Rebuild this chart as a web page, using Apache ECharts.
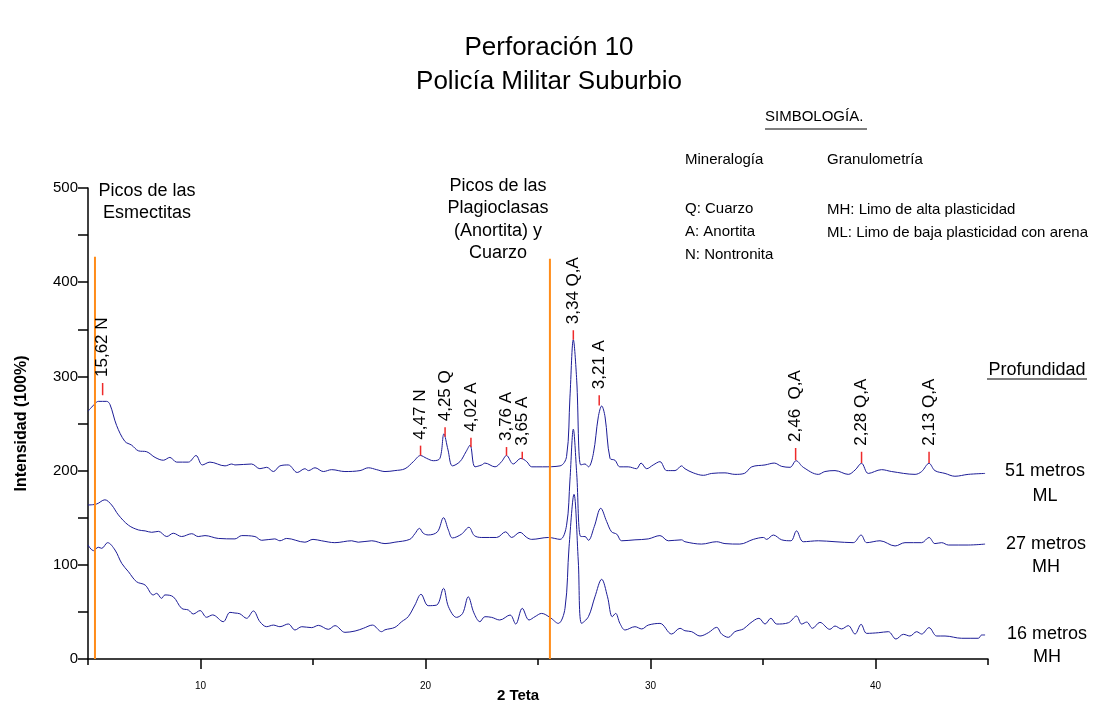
<!DOCTYPE html>
<html>
<head>
<meta charset="utf-8">
<title>Perforación 10</title>
<script src="https://cdn.jsdelivr.net/npm/echarts@6.0.0/dist/echarts.min.js"></script>
<style>
  html, body { margin: 0; padding: 0; background: #fff; }
  #chart { width: 1099px; height: 704px; }
</style>
</head>
<body>
<div id="chart"></div>
<script>
const trace51 = [
  [5.0,263],[5.31,271],[5.46,273.5],[5.83,273.5],[5.98,270],[6.27,248],[6.64,231],[6.94,227],
  [7.24,221],[7.61,220],[7.98,214],[8.35,211],[8.64,214],[8.94,209],[9.46,209],[9.8,216],
  [10.08,206],[10.42,209],[11.09,205],[11.39,207],[11.53,206],[12.27,207],[12.64,202],[12.94,203.5],
  [13.24,199],[13.53,205],[13.9,206],[14.3,198],[14.64,202],[14.8,200],[15.09,203],[15.46,199],
  [15.83,201],[16.42,199],[17.09,200],[17.46,203],[17.83,201],[18.2,199],[18.64,200],[19.09,202],
  [19.46,209.5],[19.78,216],[20.05,213],[20.35,210.5],[20.64,213],[20.82,239],[21.0,222],[21.2,205],
  [21.53,209.5],[21.8,220],[21.98,227],[22.2,204],[22.5,206],[22.64,208],[23.09,204],[23.38,209.5],
  [23.6,216],[23.9,207],[24.24,213],[24.5,209.5],[24.72,204],[25.2,204],[25.98,205],[26.27,215],
  [26.42,278],[26.57,339],[26.72,296],[26.9,206],[27.09,207],[27.24,204],[27.46,218],[27.68,257],
  [27.83,268.6],[27.98,257],[28.2,213],[28.42,211],[28.64,204],[29.01,204],[29.38,202],[29.58,208],
  [29.83,202],[30.12,206],[30.42,209.5],[30.72,200],[31.09,200],[31.38,205],[31.53,202],[31.9,197.6],
  [32.35,195],[32.72,197],[33.31,197.6],[33.75,196],[34.17,197],[34.5,204],[35.09,206],[35.5,208],
  [35.83,204.5],[36.2,203.5],[36.47,210.5],[36.79,203.5],[37.46,196],[37.75,199],[38.2,200],[38.79,196],
  [39.09,200.6],[39.38,207.7],[39.68,197],[40.27,201],[40.72,199],[41.76,196],[42.05,199],[42.38,207.7],
  [42.64,200],[43.09,197],[43.53,194],[44.12,196],[44.87,197]
];
const trace27 = [
  [5.0,163.5],[5.38,164.5],[5.75,169],[6.05,163.5],[6.35,153],[6.8,142],[7.24,137],[7.54,136],
  [7.83,134.5],[8.13,135.5],[8.5,130],[8.79,133.5],[9.16,130],[9.61,133],[9.9,130],[10.2,131],
  [10.79,128],[11.53,127.5],[11.83,131],[12.42,130],[12.72,126],[13.3,127.5],[13.53,125.5],[13.83,128],
  [14.64,124],[15.0,127],[15.38,125.5],[15.97,123.5],[16.72,125.5],[17.01,124],[17.61,125.5],[18.2,122.5],
  [18.64,124],[19.3,127],[19.53,133],[19.73,138.7],[19.9,133.5],[20.12,131.7],[20.53,135],[20.8,150],
  [21.02,136.7],[21.2,128.5],[21.6,132.5],[21.93,139.8],[22.17,131],[22.5,129],[23.16,129],[23.56,135],
  [23.83,129],[24.2,134.5],[24.5,129],[24.72,127],[25.46,129],[25.98,127],[26.27,142],[26.42,190],
  [26.57,244],[26.72,197],[26.9,130],[27.09,130],[27.24,126],[27.5,140.5],[27.79,160],[28.05,146],
  [28.27,135],[28.5,132.5],[28.72,125.5],[29.31,126.5],[29.9,127.5],[30.42,131],[30.79,125.5],[31.38,126.5],
  [31.53,124.5],[32.27,122],[32.94,124.5],[33.31,122.5],[33.97,122],[34.57,127],[35.02,129],[35.16,127],
  [35.46,131.6],[35.83,126.5],[36.24,125.5],[36.49,136],[36.79,124.5],[37.46,125.5],[38.2,124.5],[39.01,123.5],
  [39.36,131.6],[39.61,123.5],[40.2,125.5],[40.87,120],[41.31,123.5],[42.05,123.5],[42.38,129],[42.64,122.5],
  [42.94,123.5],[43.24,121],[44.12,121],[44.87,122]
];
const trace16 = [
  [5.0,121],[5.24,115],[5.46,118.6],[5.61,117.5],[5.87,123.5],[6.2,115.7],[6.5,101.5],[6.8,92.6],
  [7.16,82],[7.54,78.5],[7.9,68],[8.05,69.7],[8.27,64.4],[8.42,68],[8.79,66],[9.16,53.8],
  [9.46,52],[9.68,47.8],[9.98,51.4],[10.27,44.3],[10.54,46.8],[11.01,39.6],[11.31,49.5],[11.53,48.8],
  [11.75,48],[12.05,43.2],[12.35,51],[12.64,39.6],[12.94,34.3],[13.24,36],[13.53,34.3],[13.9,37.2],
  [14.2,30.8],[14.5,34.3],[14.94,33.3],[15.24,35.7],[15.68,31.5],[15.98,35.4],[16.42,28.3],[16.87,29.7],
  [17.24,32.6],[17.64,36],[18.05,29],[18.2,31],[18.64,33.6],[18.94,39.6],[19.23,44.9],[19.53,57.3],
  [19.8,68.7],[20.12,56.6],[20.5,57.3],[20.8,75],[21.02,55.5],[21.38,44.2],[21.65,48.4],[21.9,66],
  [22.15,49],[22.42,39.6],[22.64,44.9],[22.94,44.2],[23.3,41.4],[23.76,46.7],[24.01,37.1],[24.3,53.8],
  [24.6,41.4],[24.87,45],[25.16,48.4],[25.53,44.2],[25.9,37.8],[26.2,53.8],[26.38,119],[26.6,174.8],
  [26.79,104],[26.94,37.8],[27.24,44.9],[27.53,66],[27.83,84.6],[28.09,66],[28.3,44.9],[28.45,48.4],
  [28.64,37.8],[28.87,30.8],[29.31,34.3],[29.61,31.9],[29.9,36],[30.42,37.8],[30.94,26.5],[31.31,32.6],
  [31.53,30],[31.83,29],[32.2,24.4],[32.57,27.9],[32.94,33.6],[33.16,26.5],[33.46,23],[33.75,29],
  [34.13,31.9],[34.42,37.8],[34.82,43.2],[35.09,37.1],[35.35,43.2],[35.61,37.1],[36.13,38.5],[36.49,45.6],
  [36.72,37.1],[36.94,39.2],[37.2,32.6],[37.53,38.9],[37.97,31.5],[38.2,35],[38.49,31.9],[38.79,35.4],
  [39.09,26.5],[39.36,36.8],[39.61,27.2],[40.13,27.9],[40.57,29],[40.91,21.2],[41.24,26.2],[41.53,24.4],
  [41.83,29],[42.05,26.5],[42.38,33.3],[42.72,24.4],[43.09,24.4],[43.83,22],[44.57,22],[44.72,25.5],
  [44.87,25.5]
];

// picos marcados (posición 2θ, base y tope de la marca roja, etiqueta d / mineral)
const peakX     = [5.65, 19.78, 20.87, 22.02, 23.6, 24.3, 26.57, 27.72, 36.45, 39.38, 42.38];
const peakLow   = [280, 216, 236, 225, 216, 212, 339, 269, 211, 208, 208];
const peakHigh  = [293, 226.5, 246, 235, 225, 220, 349, 280, 224, 220, 220];
const peakLabel = ['15,62 N', '4,47 N', '4,25 Q', '4,02 A', '3,76 A', '3,65 A',
                   '3,34 Q,A', '3,21 A', '2,46  Q,A', '2,28 Q,A', '2,13 Q,A'];

// líneas naranjas que separan las zonas de picos
const guideX   = [5.31, 25.53];
const guideTop = [427, 425];

// ejes
const xTicksMajor = [10, 20, 30, 40];
const xTicksMinor = [5, 15, 25, 35, 45];

// --- estilos -----------------------------------------------------------------
const FONT = '"Liberation Sans", Arial, Helvetica, sans-serif';
const navy = '#1c1c96', orange = '#ff8c1a', red = '#ee2a2a';

const chart = echarts.init(document.getElementById('chart'));

const lineSeries = (name, data) => ({
  name, type: 'line', data, smooth: 0.35, symbol: 'none',
  lineStyle: { color: navy, width: 1 }, z: 3
});

const txt = (text, x, y, size, opts = {}) => ({
  type: 'text', x, y, silent: true,
  style: {
    text, fill: '#000', font: `${opts.bold ? 'bold ' : ''}${size}px ${FONT}`,
    align: opts.align || 'left', verticalAlign: 'middle'
  }
});
const uline = (x1, x2, y) => ({
  type: 'line', silent: true, shape: { x1, y1: y, x2, y2: y }, style: { stroke: '#000', lineWidth: 1 }
});

const option = {
  animation: false,
  grid: { left: 88, right: 111, top: 188, bottom: 45, containLabel: false, outerBoundsMode: 'none' },
  xAxis: [{
    type: 'value', min: 5, max: 45, position: 'bottom',
    axisLine: { lineStyle: { color: '#000', width: 1.5 } },
    axisTick: { customValues: xTicksMajor, length: 10, lineStyle: { color: '#000', width: 1.5 } },
    axisLabel: { customValues: xTicksMajor, margin: 22, fontSize: 10, fontFamily: FONT, color: '#000' },
    splitLine: { show: false }
  }, {
    type: 'value', min: 5, max: 45, position: 'bottom',
    axisLine: { show: false },
    axisTick: { customValues: xTicksMinor, length: 6, lineStyle: { color: '#000', width: 1.5 } },
    axisLabel: { show: false },
    splitLine: { show: false }
  }],
  yAxis: {
    type: 'value', min: 0, max: 500, interval: 50,
    name: 'Intensidad (100%)', nameLocation: 'middle', nameGap: 58,
    nameTextStyle: { fontFamily: FONT, fontWeight: 'bold', fontSize: 16, color: '#000' },
    axisLine: { show: true, lineStyle: { color: '#000', width: 1.5 } },
    axisTick: { show: true, length: 10, lineStyle: { color: '#000', width: 1.5 } },
    axisLabel: {
      margin: 10, fontSize: 15, fontFamily: FONT, color: '#000',
      formatter: v => (v % 100 === 0 ? String(v) : '')
    },
    splitLine: { show: false }
  },
  series: [
    lineSeries('51 metros', trace51),
    lineSeries('27 metros', trace27),
    lineSeries('16 metros', trace16),
    {
      type: 'custom', name: 'guias', z: 4,
      data: guideX.map((x, i) => [x, guideTop[i]]),
      renderItem: (params, api) => {
        const top = api.coord([api.value(0), api.value(1)]);
        const bot = api.coord([api.value(0), 0]);
        return { type: 'line', shape: { x1: top[0], y1: top[1], x2: bot[0], y2: bot[1] },
                 style: { stroke: orange, lineWidth: 2 } };
      }
    },
    {
      type: 'custom', name: 'picos', z: 5,
      data: peakX.map((x, i) => [x, peakLow[i], peakHigh[i]]),
      renderItem: (params, api) => {
        const lo = api.coord([api.value(0), api.value(1)]);
        const hi = api.coord([api.value(0), api.value(2)]);
        return { type: 'group', children: [
          { type: 'line', shape: { x1: lo[0], y1: lo[1], x2: hi[0], y2: hi[1] },
            style: { stroke: red, lineWidth: 1.5 } },
          { type: 'text', x: hi[0], y: hi[1] - 6, rotation: Math.PI / 2,
            style: { text: peakLabel[params.dataIndex], fill: '#000', font: `17px ${FONT}`,
                     align: 'left', verticalAlign: 'middle' } }
        ]};
      }
    }
  ],
  graphic: [
    txt('Perforación 10', 549, 48, 26, { align: 'center' }),
    txt('Policía Militar Suburbio', 549, 82, 26, { align: 'center' }),

    txt('SIMBOLOGÍA.', 765, 117, 15),
    uline(765, 867, 129),
    txt('Mineralogía', 685, 160, 15),
    txt('Granulometría', 827, 160, 15),
    txt('Q: Cuarzo', 685, 209, 15),
    txt('A: Anortita', 685, 232, 15),
    txt('N: Nontronita', 685, 255, 15),
    txt('MH: Limo de alta plasticidad', 827, 210, 15),
    txt('ML: Limo de baja plasticidad con arena', 827, 233, 15),

    txt('Picos de las', 147, 191, 18, { align: 'center' }),
    txt('Esmectitas', 147, 213, 18, { align: 'center' }),
    txt('Picos de las', 498, 186, 18, { align: 'center' }),
    txt('Plagioclasas', 498, 208, 18, { align: 'center' }),
    txt('(Anortita) y', 498, 231, 18, { align: 'center' }),
    txt('Cuarzo', 498, 253, 18, { align: 'center' }),

    txt('2 Teta', 518, 696, 15, { align: 'center', bold: true }),

    txt('Profundidad', 1037, 370, 18, { align: 'center' }),
    uline(987, 1087, 379),
    txt('51 metros', 1045, 471, 18, { align: 'center' }),
    txt('ML', 1045, 496, 18, { align: 'center' }),
    txt('27 metros', 1046, 544, 18, { align: 'center' }),
    txt('MH', 1046, 567, 18, { align: 'center' }),
    txt('16 metros', 1047, 634, 18, { align: 'center' }),
    txt('MH', 1047, 657, 18, { align: 'center' })
  ]
};

chart.setOption(option);
</script>
</body>
</html>
